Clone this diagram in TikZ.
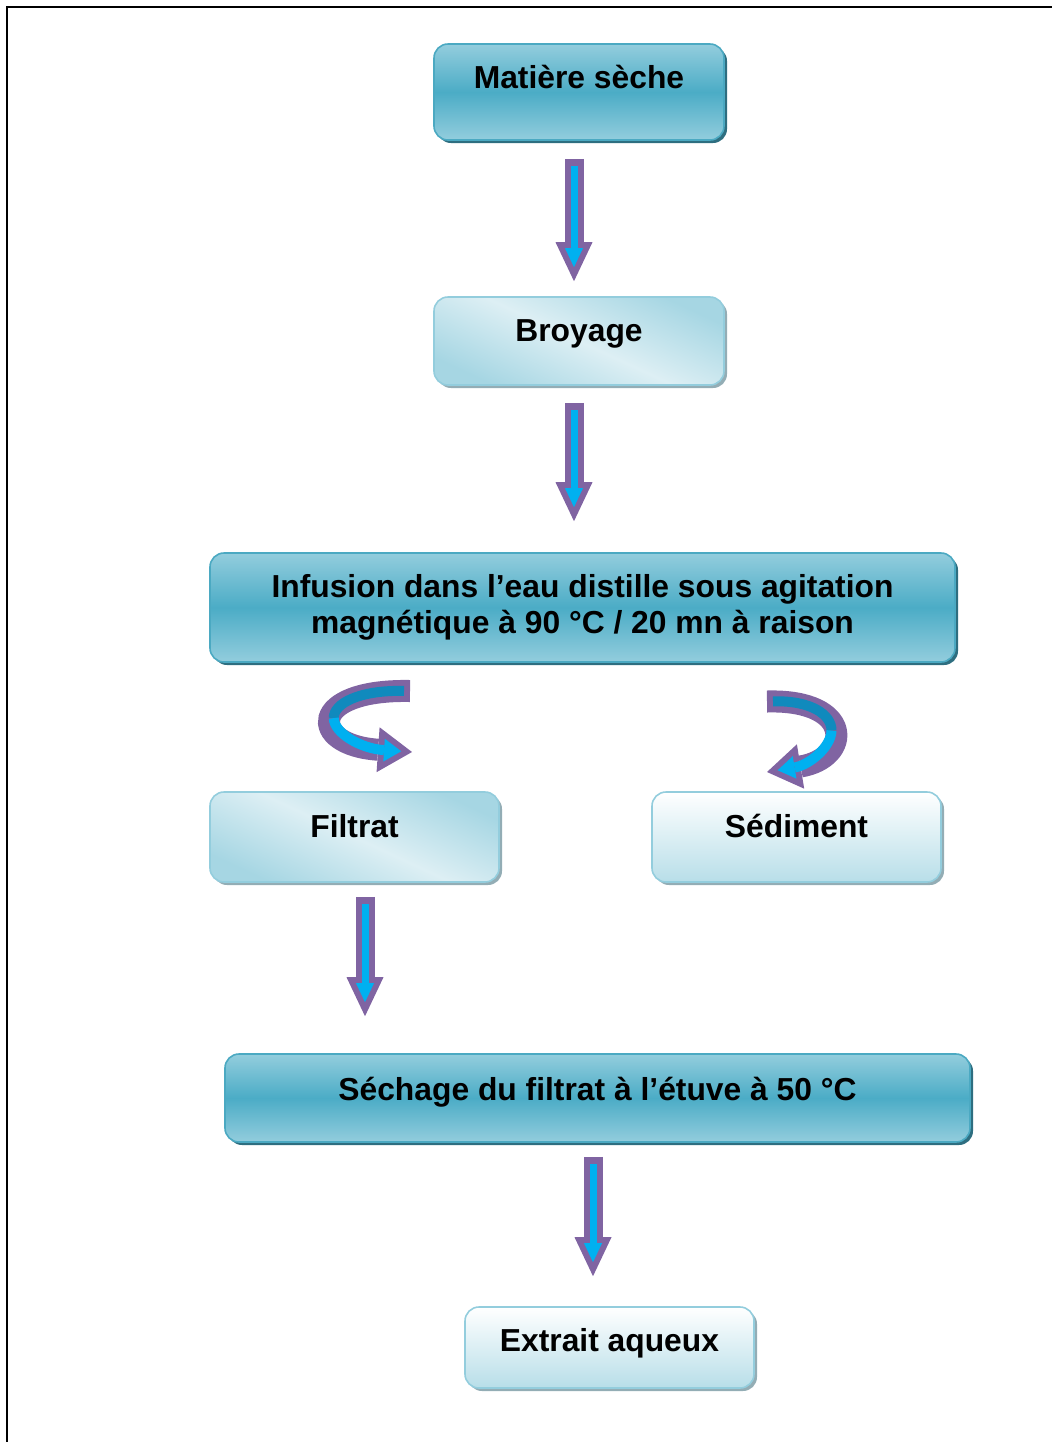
\documentclass[tikz,border=0pt]{standalone}
\usepackage{fontspec}
\setmainfont{Liberation Sans}
\usetikzlibrary{arrows.meta, shadows, positioning}

\definecolor{tealtop}{HTML}{93CDDD}
\definecolor{tealmid}{HTML}{4BACC6}
\definecolor{tealedge}{HTML}{4BA9C2}
\definecolor{tealshade}{HTML}{2E6E80}
\definecolor{paletop}{HTML}{DDEFF4}
\definecolor{palebot}{HTML}{A6D6E3}
\definecolor{paleedge}{HTML}{93CDDD}
\definecolor{paleshade}{HTML}{93ADB5}
\definecolor{arrowpurple}{HTML}{8064A2}
\definecolor{arrowblue}{HTML}{00B0F0}
\definecolor{ribbondark}{HTML}{108ABD}

\newcommand{\flowfont}{\fontsize{15.9}{18}\selectfont\bfseries}

\begin{document}
\begin{tikzpicture}[x=0.5pt, y=-0.5pt,
    darkbox/.style={rectangle, rounded corners=7pt, draw=tealedge, line width=0.8pt, top color=tealtop, bottom color=tealtop, middle color=tealmid, minimum width=145pt, minimum height=48pt, align=center, font=\flowfont, drop shadow={shadow xshift=1.5pt, shadow yshift=-1.5pt, fill=tealshade, opacity=1}},
    palebox/.style={rectangle, rounded corners=7pt, draw=paleedge, line width=0.8pt, top color=white, bottom color=palebot!80, minimum width=144.5pt, minimum height=45pt, align=center, font=\flowfont, drop shadow={shadow xshift=1.5pt, shadow yshift=-1.5pt, fill=paleshade, opacity=1}},
    slanted/.style={top color=palebot, bottom color=palebot, middle color=paletop, shading angle=-25},
    oneline/.style={text height=12pt, text depth=#1},
    arrowout/.style={draw=arrowpurple, line width=9.5pt, -{Triangle[width=18.5pt, length=19.5pt, line width=0pt]}},
    arrowin/.style={draw=arrowblue, line width=3.5pt, shorten <=3.5pt, shorten >=7pt, -{Triangle[width=9pt, length=9.5pt, line width=0pt]}},
    curveout/.style={draw=arrowpurple, line width=11pt, -{Triangle[width=22.5pt, length=17pt, line width=0pt]}},
    curvetop/.style={draw=ribbondark, line width=5pt, shorten <=3pt},
    curvebot/.style={draw=arrowblue, line width=5pt, shorten >=5.4pt, -{Triangle[width=11.4pt, length=8.6pt, line width=0pt]}}
]
\useasboundingbox (0,0) rectangle (1052,1442);

% --- page frame (cut at right and bottom) ---
\draw[line width=1pt] (7,1442) -- (7,7) -- (1052,7);

% --- steps ---
\node[darkbox, oneline=15.6pt] (mat) at (579,92) {Matière sèche};
\node[palebox, slanted, minimum width=145pt, minimum height=44pt, oneline=12pt] (broy) at (579,341) {Broyage};
\node[darkbox, minimum width=372.5pt, minimum height=54.5pt] (inf) at (582.5,607.5) {Infusion dans l’eau distille sous agitation\\magnétique à 90 °C / 20 mn à raison};
\node[palebox, slanted, oneline=12pt] (filt) at (354.5,837) {Filtrat};
\node[palebox, oneline=12pt] (sedi) at (796.5,837) {Sédiment};
\node[darkbox, minimum width=372.5pt, minimum height=44pt, oneline=10pt] (sech) at (597.5,1098) {Séchage du filtrat à l’étuve à 50 °C};
\node[palebox, minimum height=40.5pt, oneline=8.5pt] (extr) at (609.5,1347.5) {Extrait aqueux};

% --- straight block arrows ---
\foreach \a/\b/\xa/\ya/\xb/\yb in {mat/broy/-2.5/-9/-2.5/7.5, broy/inf/-2.5/-8.5/-4.25/15.5, filt/sech/5.25/-7/-116.25/18.5, sech/extr/-2.25/-7/-8.25/15} {
    \draw[arrowout] ([xshift=\xa pt, yshift=\ya pt]\a.south) -- ([xshift=\xb pt, yshift=\yb pt]\b.north);
    \draw[arrowin] ([xshift=\xa pt, yshift=\ya pt]\a.south) -- ([xshift=\xb pt, yshift=\yb pt]\b.north);
}

% --- curved arrows below the infusion ---
\coordinate (lfrom) at (410,691);
\coordinate (lmid) at (333.75,718.1);
\coordinate (lto) at (412,752);
\draw[curveout] (lfrom) .. controls (308,689) and (308,745) .. (lto);
\draw[curvetop] (lfrom) .. controls (359,690) and (333.5,703.5) .. (lmid);
\draw[curvebot] (lmid) .. controls (334,732.75) and (360,748.5) .. (lto);

\coordinate (rfrom) at (767,701.5);
\coordinate (rmid) at (831.5,730.6);
\coordinate (rto) at (767,772);
\draw[curveout] (rfrom) .. controls (854,699) and (852,758) .. (rto);
\draw[curvetop] (rfrom) .. controls (810.5,700.25) and (831.75,714.4) .. (rmid);
\draw[curvebot] (rmid) .. controls (831.25,746.75) and (809.5,765) .. (rto);

\end{tikzpicture}
\end{document}
